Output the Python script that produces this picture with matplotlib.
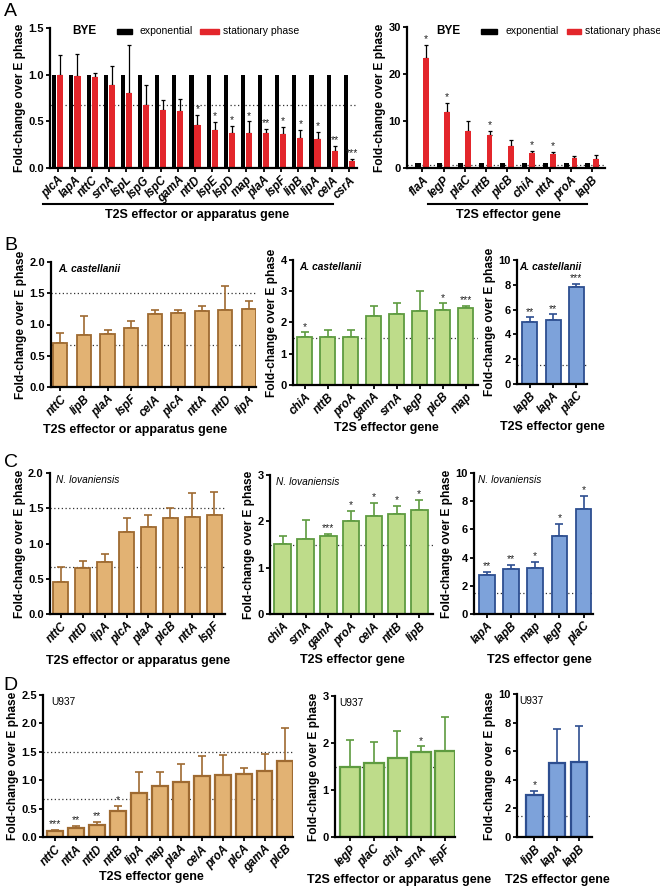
import matplotlib
matplotlib.use('Agg')
import matplotlib.pyplot as plt
from matplotlib.lines import Line2D
from matplotlib.patches import Rectangle
import numpy as np

plt.rcParams['font.family'] = ['Liberation Sans', 'DejaVu Sans']

W, H = 660, 891

# ---------------- data ----------------
# Panel A (BYE) left
a1_genes = ['plcA', 'lapA', 'nttC', 'srnA', 'lspL', 'lspG', 'lspC', 'gamA', 'nttD', 'lspE',
            'lspD', 'map', 'plaA', 'lspF', 'lipB', 'lipA', 'celA', 'csrA']
a1_exp = [1.0] * 18
a1_stat = [1.00, 0.99, 0.98, 0.89, 0.80, 0.67, 0.62, 0.61, 0.46, 0.41,
           0.38, 0.38, 0.37, 0.36, 0.32, 0.31, 0.18, 0.07]
a1_err = [1.21, 1.22, 1.02, 1.09, 1.32, 0.89, 0.73, 0.74, 0.57, 0.49,
          0.45, 0.50, 0.42, 0.44, 0.41, 0.39, 0.24, 0.10]
a1_sig = ['', '', '', '', '', '', '', '', '*', '*', '*', '*', '**', '*', '*', '*', '**', '***']

# Panel A (BYE) right
a2_genes = ['flaA', 'legP', 'plaC', 'nttB', 'plcB', 'chiA', 'nttA', 'proA', 'lapB']
a2_exp = [1.0] * 9
a2_stat = [23.5, 11.9, 7.8, 7.0, 4.6, 3.2, 3.0, 2.1, 2.0]
a2_err = [26.2, 13.8, 10.1, 7.9, 5.9, 3.6, 3.5, 2.6, 2.7]
a2_sig = ['*', '*', '', '*', '', '*', '*', '', '']

# Panel B (A. castellanii)
b1_genes = ['nttC', 'lipB', 'plaA', 'lspF', 'celA', 'plcA', 'nttA', 'nttD', 'lipA']
b1_vals = [0.71, 0.84, 0.85, 0.95, 1.17, 1.19, 1.22, 1.24, 1.25]
b1_err = [0.87, 1.14, 0.92, 1.05, 1.23, 1.24, 1.30, 1.61, 1.37]
b1_sig = [''] * 9

b2_genes = ['chiA', 'nttB', 'proA', 'gamA', 'srnA', 'legP', 'plcB', 'map']
b2_vals = [1.53, 1.55, 1.55, 2.20, 2.28, 2.38, 2.40, 2.47]
b2_err = [1.68, 1.75, 1.76, 2.52, 2.61, 3.00, 2.61, 2.52]
b2_sig = ['*', '', '', '', '', '', '*', '***']

b3_genes = ['lapB', 'lapA', 'plaC']
b3_vals = [5.0, 5.17, 7.82]
b3_err = [5.37, 5.62, 8.06]
b3_sig = ['**', '**', '***']

# Panel C (N. lovaniensis)
c1_genes = ['nttC', 'nttD', 'lipA', 'plcA', 'plaA', 'plcB', 'nttA', 'lspF']
c1_vals = [0.46, 0.65, 0.74, 1.16, 1.24, 1.36, 1.37, 1.40]
c1_err = [0.67, 0.75, 0.85, 1.36, 1.40, 1.50, 1.71, 1.73]
c1_sig = [''] * 8

c2_genes = ['chiA', 'srnA', 'gamA', 'proA', 'celA', 'nttB', 'lipB']
c2_vals = [1.51, 1.62, 1.69, 2.00, 2.12, 2.15, 2.25]
c2_err = [1.69, 2.02, 1.73, 2.23, 2.40, 2.34, 2.46]
c2_sig = ['', '', '***', '*', '*', '*', '*']

c3_genes = ['lapA', 'lapB', 'map', 'legP', 'plaC']
c3_vals = [2.78, 3.20, 3.28, 5.52, 7.45]
c3_err = [2.97, 3.47, 3.70, 6.37, 8.35]
c3_sig = ['**', '**', '*', '*', '*']

# Panel D (U937)
d1_genes = ['nttC', 'nttA', 'nttD', 'nttB', 'lipA', 'map', 'plaA', 'celA', 'proA', 'plcA', 'gamA', 'plcB']
d1_vals = [0.11, 0.15, 0.22, 0.45, 0.78, 0.89, 0.96, 1.08, 1.09, 1.11, 1.16, 1.34]
d1_err = [0.13, 0.20, 0.26, 0.55, 1.15, 1.14, 1.29, 1.43, 1.45, 1.22, 1.46, 1.92]
d1_sig = ['***', '**', '**', '*', '', '', '', '', '', '', '', '']

d2_genes = ['legP', 'plaC', 'chiA', 'srnA', 'lspF']
d2_vals = [1.50, 1.57, 1.68, 1.81, 1.84]
d2_err = [2.07, 2.03, 2.25, 1.93, 2.56]
d2_sig = ['', '', '', '*', '']

d3_genes = ['lipB', 'lapA', 'lapB']
d3_vals = [2.92, 5.14, 5.21]
d3_err = [3.24, 7.55, 7.76]
d3_sig = ['*', '', '']

# ---------------- styling ----------------
TAN_F, TAN_E = '#E2B273', '#9E6A31'
GRN_F, GRN_E = '#BEDC8A', '#5E9B40'
BLU_F, BLU_E = '#7DA2DA', '#2D4E90'
RED = '#E3262B'

TICK_FS = 8.0
XTICK_FS = 8.3
YLAB_FS = 8.6

fig = plt.figure(figsize=(W / 100, H / 100), dpi=100)


def add_axes(x0, x1, ytop, ybot):
    return fig.add_axes([x0 / W, 1 - ybot / H, (x1 - x0) / W, (ybot - ytop) / H])


def style_axes(ax, ylim, yticks, ytl, xlim, genes):
    ax.set_ylim(*ylim)
    ax.set_xlim(*xlim)
    ax.set_yticks(yticks)
    ax.set_yticklabels(ytl, fontsize=TICK_FS, fontweight='bold')
    ax.set_xticks(np.arange(len(genes)))
    ax.set_xticklabels(genes, rotation=45, ha='right', rotation_mode='anchor',
                       fontsize=XTICK_FS, fontweight='bold', fontstyle='italic')
    for s in ['top', 'right']:
        ax.spines[s].set_visible(False)
    for s in ['left', 'bottom']:
        ax.spines[s].set_linewidth(1.6)
    ax.tick_params(axis='both', width=1.3, length=3, pad=1.5)
    ax.set_ylabel('Fold-change over E phase', fontsize=YLAB_FS, fontweight='bold', labelpad=1.5)


def hline(ax, y):
    ax.axhline(y, color='#333333', lw=0.9, ls=(0, (1, 2)), zorder=0)


def stars(ax, xs, tops, sigs):
    for x, t, s in zip(xs, tops, sigs):
        if s:
            ax.annotate(s, (x, t), xytext=(0, 0.5), textcoords='offset points',
                        ha='center', va='bottom', fontsize=7.5, color='#222222', zorder=5)


def bar_panel(rect, genes, vals, errs, sigs, fc, ec, ylim, yticks, ytl, xlim, width,
              lines, label, label_kw, lw=1.3):
    ax = add_axes(*rect)
    x = np.arange(len(genes))
    ax.bar(x, vals, width=width, color=fc, edgecolor=ec, linewidth=lw, zorder=2)
    up = np.array(errs) - np.array(vals)
    ax.errorbar(x, vals, yerr=[np.zeros(len(x)), up], fmt='none', ecolor=ec,
                elinewidth=1.2, capsize=3.2, capthick=1.2, zorder=1.5)
    for h in lines:
        hline(ax, h)
    stars(ax, x, errs, sigs)
    style_axes(ax, ylim, yticks, ytl, xlim, genes)
    ax.text(0.035, 0.985, label, transform=ax.transAxes, ha='left', va='top', fontsize=7.3, **label_kw)
    return ax


# ---------------- Panel A ----------------
def a_panel(rect, genes, exp, stat, err, sig, ylim, yticks, ytl, xlim, wb, wr, ob, orr, lines):
    ax = add_axes(*rect)
    x = np.arange(len(genes))
    ax.bar(x + ob, exp, width=wb, color='black', zorder=2)
    ax.bar(x + orr, stat, width=wr, color=RED, zorder=2)
    up = np.array(err) - np.array(stat)
    ax.errorbar(x + orr, stat, yerr=[np.zeros(len(x)), up], fmt='none', ecolor='black',
                elinewidth=0.9, capsize=1.5, capthick=0.9, zorder=1.5)
    for h in lines:
        hline(ax, h)
    stars(ax, x + orr, err, sig)
    style_axes(ax, ylim, yticks, ytl, xlim, genes)
    return ax


a_panel((50, 357, 28, 168), a1_genes, a1_exp, a1_stat, a1_err, a1_sig,
        (0, 1.5), [0, 0.5, 1.0, 1.5], ['0.0', '0.5', '1.0', '1.5'], (-0.45, 17.45),
        0.24, 0.36, -0.2, 0.15, [0.67])
a_panel((407, 605, 27, 168), a2_genes, a2_exp, a2_stat, a2_err, a2_sig,
        (0, 30), [0, 10, 20, 30], ['0', '10', '20', '30'], (-0.73, 8.6),
        0.24, 0.27, -0.21, 0.16, [0.67])


def legend_row(xs, y):
    # xs: BYE x, black patch x, exponential x, red patch x, stationary x (pixels)
    fig.text(xs[0] / W, 1 - y / H, 'BYE', fontsize=8.5, fontweight='bold', va='center', ha='left')
    fig.patches.append(Rectangle((xs[1] / W, 1 - (y + 2.5) / H), (xs[2] - xs[1] - 8) / W, 5 / H,
                                 transform=fig.transFigure, color='black', figure=fig))
    fig.text(xs[2] / W, 1 - y / H, 'exponential', fontsize=7.5, va='center', ha='left')
    fig.patches.append(Rectangle((xs[3] / W, 1 - (y + 2.5) / H), (xs[4] - xs[3] - 4) / W, 5 / H,
                                 transform=fig.transFigure, color=RED, figure=fig))
    fig.text(xs[4] / W, 1 - y / H, 'stationary phase', fontsize=7.5, va='center', ha='left')


legend_row([72, 117, 140, 200, 223], 31)
legend_row([436, 481, 505, 567, 585], 31)

# ---------------- Panel B ----------------
bold_it = dict(fontweight='bold', fontstyle='italic')
bar_panel((51, 256, 262, 387), b1_genes, b1_vals, b1_err, b1_sig, TAN_F, TAN_E,
          (0, 2.0), [0, 0.5, 1.0, 1.5, 2.0], ['0.0', '0.5', '1.0', '1.5', '2.0'],
          (-0.4, 8.3), 0.6, [0.67, 1.5], 'A. castellanii', bold_it)
bar_panel((293, 478, 260, 385), b2_genes, b2_vals, b2_err, b2_sig, GRN_F, GRN_E,
          (0, 4), [0, 1, 2, 3, 4], ['0', '1', '2', '3', '4'],
          (-0.5, 7.54), 0.65, [1.5], 'A. castellanii', bold_it)
bar_panel((517, 587, 260, 384), b3_genes, b3_vals, b3_err, b3_sig, BLU_F, BLU_E,
          (0, 10), [0, 2, 4, 6, 8, 10], ['0', '2', '4', '6', '8', '10'],
          (-0.54, 2.45), 0.64, [1.5], 'A. castellanii', bold_it)

# ---------------- Panel C ----------------
ital = dict(fontstyle='italic')
bar_panel((50, 225, 473, 614), c1_genes, c1_vals, c1_err, c1_sig, TAN_F, TAN_E,
          (0, 2.0), [0, 0.5, 1.0, 1.5, 2.0], ['0.0', '0.5', '1.0', '1.5', '2.0'],
          (-0.48, 7.48), 0.68, [0.67, 1.5], 'N. lovaniensis', ital)
bar_panel((270, 433, 475, 614), c2_genes, c2_vals, c2_err, c2_sig, GRN_F, GRN_E,
          (0, 3), [0, 1, 2, 3], ['0', '1', '2', '3'],
          (-0.56, 6.6), 0.73, [1.5], 'N. lovaniensis', ital)
bar_panel((474, 593, 473, 614), c3_genes, c3_vals, c3_err, c3_sig, BLU_F, BLU_E,
          (0, 10), [0, 2, 4, 6, 8, 10], ['0', '2', '4', '6', '8', '10'],
          (-0.53, 4.39), 0.65, [1.5], 'N. lovaniensis', ital)

# ---------------- Panel D ----------------
bar_panel((43, 293, 695, 837), d1_genes, d1_vals, d1_err, d1_sig, TAN_F, TAN_E,
          (0, 2.5), [0, 0.5, 1.0, 1.5, 2.0, 2.5], ['0.0', '0.5', '1.0', '1.5', '2.0', '2.5'],
          (-0.57, 11.36), 0.76, [0.67, 1.5], 'U937', {}, lw=1.6)
bar_panel((335, 455, 696, 837), d2_genes, d2_vals, d2_err, d2_sig, GRN_F, GRN_E,
          (0, 3), [0, 1, 2, 3], ['0', '1', '2', '3'],
          (-0.63, 4.42), 0.84, [1.5], 'U937', {}, lw=1.6)
bar_panel((517, 592, 694, 837), d3_genes, d3_vals, d3_err, d3_sig, BLU_F, BLU_E,
          (0, 10), [0, 2, 4, 6, 8, 10], ['0', '2', '4', '6', '8', '10'],
          (-0.78, 2.57), 0.72, [1.5], 'U937', {}, lw=1.6)

# ---------------- x labels, underlines, panel letters ----------------
xlabels = [
    (197, 215, 'T2S effector or apparatus gene'),
    (508, 215, 'T2S effector gene'),
    (135, 430, 'T2S effector or apparatus gene'),
    (386, 428, 'T2S effector gene'),
    (552, 427, 'T2S effector gene'),
    (138, 661, 'T2S effector or apparatus gene'),
    (352, 660, 'T2S effector gene'),
    (539, 660, 'T2S effector gene'),
    (151, 877, 'T2S effector gene'),
    (399, 880, 'T2S effector or apparatus gene'),
    (557, 880, 'T2S effector gene'),
]
for x, y, t in xlabels:
    fig.text(x / W, 1 - y / H, t, ha='center', va='center', fontsize=9, fontweight='bold')

fig.add_artist(Line2D([43 / W, 333 / W], [1 - 204 / H, 1 - 204 / H], color='black', lw=1.5))
fig.add_artist(Line2D([428 / W, 587 / W], [1 - 204 / H, 1 - 204 / H], color='black', lw=1.5))

for x, y, t in [(4, 12, 'A'), (4, 245, 'B'), (4, 463, 'C'), (3, 685, 'D')]:
    fig.text(x / W, 1 - y / H, t, ha='left', va='center', fontsize=14)

fig.savefig('out.png', dpi=100)
